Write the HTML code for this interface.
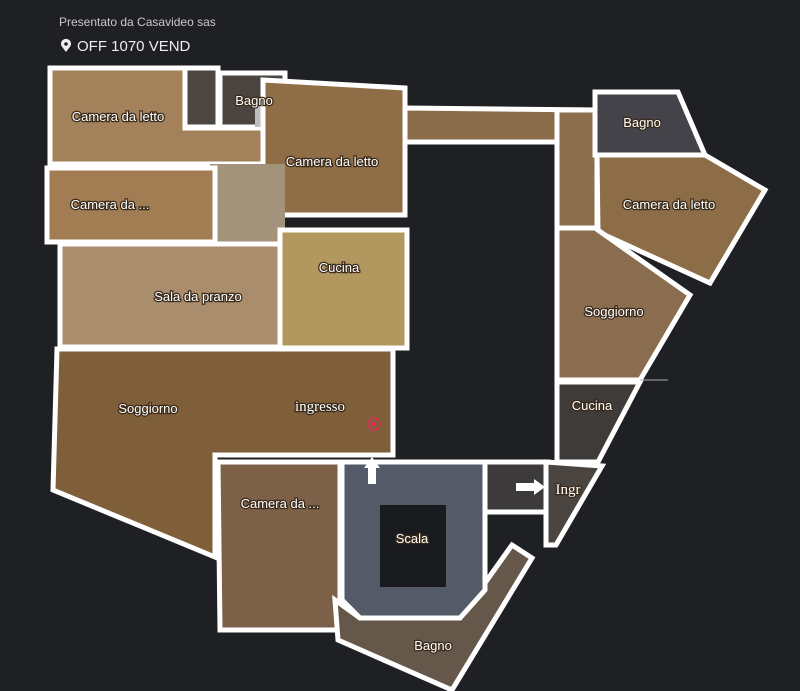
<!DOCTYPE html>
<html><head><meta charset="utf-8"><style>
html,body{margin:0;padding:0;background:#1f2024;}
body{width:800px;height:691px;overflow:hidden;position:relative;font-family:"Liberation Sans",sans-serif;}
.h1{position:absolute;left:59px;top:15px;font-size:12px;color:#c9c9c9;}
.h2{position:absolute;left:77px;top:38px;font-size:15px;color:#eee;}
svg{position:absolute;left:0;top:0;}
text{font-family:"Liberation Sans",sans-serif;font-size:13px;fill:#fff;paint-order:stroke;stroke:#3a2a1a;stroke-width:2.5px;}
</style></head><body>
<div class="h1">Presentato da Casavideo sas</div>
<div class="h2">OFF 1070 VEND</div>
<svg width="800" height="691" viewBox="0 0 800 691">
<path d="M66 52 L61.5 46 A5 5 0 1 1 70.5 46 Z" fill="#eee"/><circle cx="66" cy="44" r="1.8" fill="#1f2024"/>
<g stroke="#fff" stroke-width="5" stroke-linejoin="miter">
<polygon points="50,68 185,68 185,128 265,128 265,164 50,164" fill="#a3815a"/>
<polygon points="185,68 218,68 218,127 185,127" fill="#4c4640"/>
<polygon points="220,73 285,73 285,127 220,127" fill="#4a4540"/>
<rect x="255" y="105" width="28" height="22" fill="#bdbdbd" stroke="none"/>
<polygon points="263,80 405,88 405,215 263,215" fill="#8f6d47"/>
<polygon points="210,164 285,164 285,250 210,250" fill="#a3937b" stroke="none"/>
<polygon points="47,168 215,168 215,242 47,242" fill="#a27c52"/>
<polygon points="60,244 282,244 282,347 60,347" fill="#a98d6c"/>
<polygon points="280,230 407,230 407,348 280,348" fill="#b2975e"/>
<polygon points="57,349 393,349 393,455 215,455 215,557 53,490" fill="#7f5e3a"/>
<polygon points="218,462 340,462 340,630 220,630" fill="#7d6048"/>
<polygon points="335,600 360,618 460,618 512,545 532,558 452,690 338,640" fill="#66574b"/>
<polygon points="342,462 485,462 485,590 460,618 360,618 342,600" fill="#545a68"/>
<polygon points="485,462 548,462 548,512 485,512" fill="#3c3a3a"/>
<polygon points="405,108 598,110 598,142 405,142" fill="#8a6b4a"/>
<polygon points="557,110 597,110 597,228 557,228" fill="#8c6d4c"/>
<polygon points="595,92 678,92 705,155 595,155" fill="#44434a"/>
<polygon points="597,155 705,155 765,190 710,283 598,232" fill="#8d6c48"/>
<polygon points="557,228 595,228 690,295 640,380 557,380" fill="#8a6d4e"/>
<polygon points="557,382 640,382 598,462 557,462" fill="#3e3b39"/>
<polygon points="546,462 602,466 556,545 546,545" fill="#4a4540"/>
</g>
<rect x="380" y="505" width="66" height="82" fill="#1a1b1f"/>
<line x1="640" y1="380" x2="668" y2="380" stroke="#aaa" stroke-width="1"/>
<polygon points="372,457 380,468 376,468 376,484 368,484 368,468 364,468" fill="#fff"/>
<polygon points="545,487 534,479 534,483 516,483 516,491 534,491 534,495" fill="#fff"/>
<circle cx="374" cy="424" r="6" fill="none" stroke="#e03050" stroke-width="1.5"/><circle cx="374" cy="424" r="2.5" fill="#e03050"/>
<g text-anchor="middle">
<text x="118" y="121">Camera da letto</text>
<text x="254" y="105">Bagno</text>
<text x="332" y="166">Camera da letto</text>
<text x="110" y="209">Camera da ...</text>
<text x="339" y="272">Cucina</text>
<text x="198" y="301">Sala da pranzo</text>
<text x="148" y="413">Soggiorno</text>
<text x="320" y="411" style="font-family:'Liberation Serif',serif;font-size:15px">ingresso</text>
<text x="280" y="508">Camera da ...</text>
<text x="412" y="543">Scala</text>
<text x="433" y="650">Bagno</text>
<text x="642" y="127">Bagno</text>
<text x="669" y="209">Camera da letto</text>
<text x="614" y="316">Soggiorno</text>
<text x="592" y="410">Cucina</text>
<text x="568" y="494" style="font-family:'Liberation Serif',serif;font-size:15px">Ingr</text>
</g>
</svg>
</body></html>
